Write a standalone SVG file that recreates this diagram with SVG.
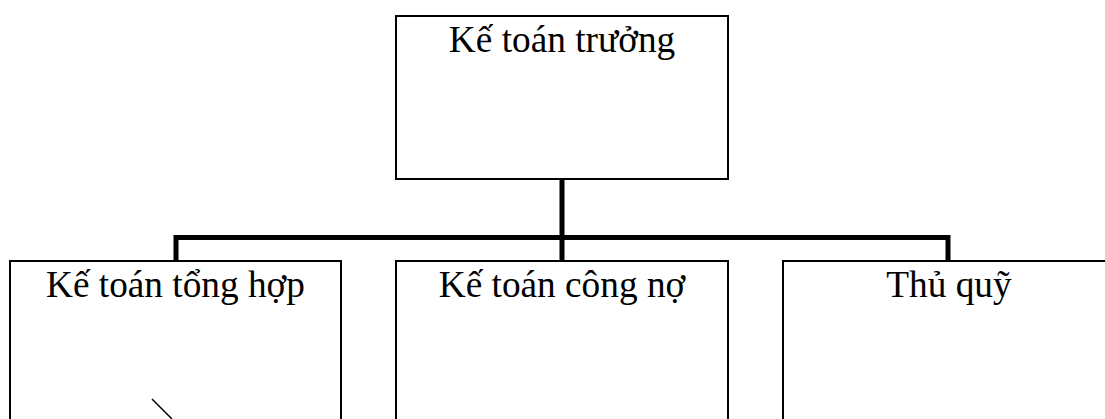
<svg xmlns="http://www.w3.org/2000/svg" width="1105" height="419" viewBox="0 0 1105 419">
  <style>
    .box { fill: #ffffff; stroke: #000000; stroke-width: 2; }
    .label { font-family: "Liberation Serif", "Times New Roman", serif; font-size: 37.3px; fill: #000000; text-anchor: middle; }
    .link { fill: none; stroke: #000000; stroke-width: 5; stroke-linecap: butt; }
  </style>
  <rect width="1105" height="419" fill="#ffffff"/>

  <!-- tree connectors -->
  <g id="connectors">
    <path class="link" d="M562 179 V261"/>
    <path class="link" d="M176 261 V237.5 H948 V261"/>
  </g>

  <g id="node-ke-toan-truong">
    <rect class="box" x="396" y="16" width="332" height="163"/>
    <text class="label" x="562" y="52">Kế toán trưởng</text>
  </g>

  <g id="node-ke-toan-tong-hop">
    <rect class="box" x="10" y="261" width="331" height="180"/>
    <text class="label" x="175.5" y="297">Kế toán tổng hợp</text>
    <line x1="152" y1="399" x2="172" y2="419" stroke="#000000" stroke-width="1.5"/>
  </g>

  <g id="node-ke-toan-cong-no">
    <rect class="box" x="396" y="261" width="332" height="180"/>
    <text class="label" x="562" y="297">Kế toán công nợ</text>
  </g>

  <g id="node-thu-quy">
    <rect class="box" x="783" y="261" width="332" height="180"/>
    <text class="label" x="949" y="297">Thủ quỹ</text>
  </g>
</svg>
